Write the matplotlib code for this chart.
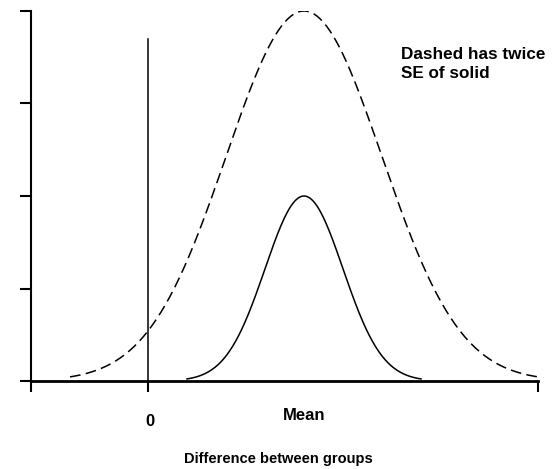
import matplotlib
matplotlib.use("Agg")
import matplotlib.pyplot as plt
import numpy as np

plt.rcParams['font.family'] = ['Liberation Sans', 'DejaVu Sans']

# parameters
mean = 1.0
se_solid = 0.25
se_dashed = 0.5
peak_solid = 2.0
peak_dashed = 4.0
zero_line_top = 3.7
x_ticks = [-0.75, 0, 2.5]
y_ticks = [0, 1, 2, 3, 4]
note = "Dashed has twice\nSE of solid"

fig = plt.figure(figsize=(5.52, 4.69), dpi=100)
ax = fig.add_axes([31/552, 1-381/469, (538-31)/552, 370/469])

# curves cover +-3 SE
xs = np.linspace(mean - 3*se_solid, mean + 3*se_solid, 300)
ax.plot(xs, peak_solid*np.exp(-0.5*((xs-mean)/se_solid)**2), color="black", lw=1.1)
xd = np.linspace(mean - 3*se_dashed, mean + 3*se_dashed, 300)
ax.plot(xd, peak_dashed*np.exp(-0.5*((xd-mean)/se_dashed)**2), color="black", lw=1.1,
        ls=(0, (7, 3.5)))

ax.plot([0, 0], [0, zero_line_top], color="black", lw=1.1)

ax.set_xlim(-0.75, 2.5)
ax.set_ylim(0, 4)
ax.set_xticks(x_ticks)
ax.set_xticklabels([])
ax.set_yticks(y_ticks)
ax.set_yticklabels([])
ax.tick_params(axis="both", direction="out", length=8, width=1.5)
ax.spines["top"].set_visible(False)
ax.spines["right"].set_visible(False)
ax.spines["left"].set_linewidth(1.5)
ax.spines["bottom"].set_linewidth(2)

ax.text(0.015, -0.44, "0", ha="center", va="center", fontsize=12, fontweight="bold")
ax.text(mean, -0.37, "Mean", ha="center", va="center", fontsize=12, fontweight="bold")
ax.text(0.487, -0.21, "Difference between groups", transform=ax.transAxes, ha="center",
        va="center", fontsize=10.5, fontweight="bold")
ax.text(401/552, 1-47/469, note, transform=fig.transFigure, ha="left", va="top",
        fontsize=12.3, fontweight="bold", linespacing=1.3)

fig.savefig("out.png", dpi=100)
